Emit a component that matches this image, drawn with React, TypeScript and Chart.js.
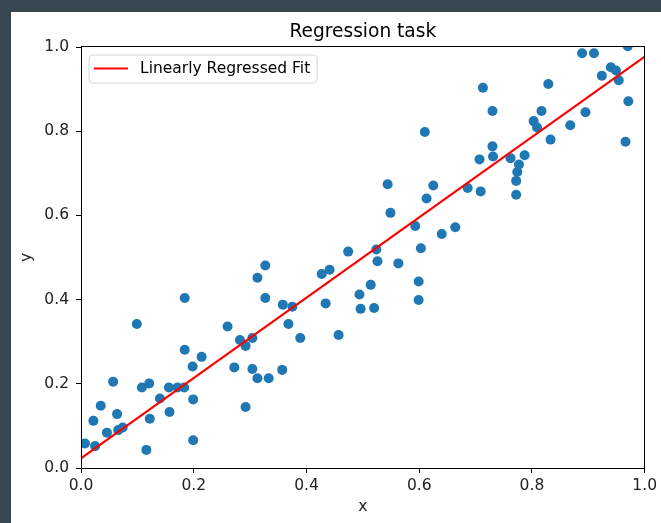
import React, { useEffect, useRef } from "react";
import { Chart, registerables } from "chart.js";

Chart.register(...registerables);

const titleText = "Regression task";
const legendLabel = "Linearly Regressed Fit";
const xAxisLabel = "x";
const yAxisLabel = "y";

const xTicks = [0, 0.2, 0.4, 0.6, 0.8, 1.0];
const yTicks = [0, 0.2, 0.4, 0.6, 0.8, 1.0];

const xValues = [
  0.007, 0.025, 0.022, 0.035, 0.046, 0.057, 0.064, 0.066, 0.074, 0.099,
  0.108, 0.121, 0.116, 0.122, 0.14, 0.156, 0.157, 0.171, 0.183, 0.184,
  0.184, 0.199, 0.199, 0.198, 0.214, 0.26, 0.272, 0.282, 0.292, 0.304,
  0.292, 0.304, 0.313, 0.333, 0.313, 0.327, 0.327, 0.358, 0.357, 0.375,
  0.368, 0.389, 0.427, 0.441, 0.434, 0.457, 0.474, 0.494, 0.496, 0.514,
  0.52, 0.524, 0.526, 0.563, 0.544, 0.549, 0.593, 0.603, 0.599, 0.599,
  0.61, 0.613, 0.625, 0.64, 0.664, 0.686, 0.709, 0.707, 0.713, 0.73,
  0.73, 0.731, 0.762, 0.777, 0.774, 0.772, 0.772, 0.787, 0.803, 0.809,
  0.817, 0.829, 0.833, 0.868, 0.889, 0.91, 0.895, 0.924, 0.94, 0.949,
  0.954, 0.971, 0.966, 0.97,
];

const yValues = [
  0.058, 0.052, 0.112, 0.148, 0.084, 0.205, 0.128, 0.09, 0.096, 0.342,
  0.191, 0.201, 0.043, 0.117, 0.165, 0.191, 0.133, 0.191, 0.191, 0.404,
  0.281, 0.163, 0.066, 0.241, 0.264, 0.336, 0.239, 0.304, 0.29, 0.309,
  0.145, 0.235, 0.213, 0.213, 0.452, 0.481, 0.404, 0.388, 0.233, 0.383,
  0.342, 0.309, 0.461, 0.471, 0.391, 0.316, 0.514, 0.412, 0.378, 0.435,
  0.38, 0.519, 0.491, 0.486, 0.674, 0.606, 0.575, 0.522, 0.443, 0.399,
  0.798, 0.64, 0.671, 0.556, 0.572, 0.665, 0.657, 0.733, 0.903, 0.848,
  0.764, 0.74, 0.736, 0.721, 0.703, 0.682, 0.649, 0.743, 0.824, 0.809,
  0.848, 0.912, 0.78, 0.814, 0.985, 0.985, 0.845, 0.932, 0.952, 0.944,
  0.921, 0.871, 0.775, 1.002,
];

const fitX = [0, 1];
const fitY = [0.023, 0.977];

const FONT = '"DejaVu Sans", sans-serif';
const TICK_SIZE = 15.5;
const TITLE_SIZE = 18.6;
const LINE_RED = "#ff0000";
const POINT_BLUE = "#1f77b4";

const decorPlugin = {
  id: "decor",
  afterDraw(chart: any) {
    const { ctx, chartArea } = chart;
    const { left, top, right, bottom } = chartArea;
    ctx.save();
    // frame (spines)
    ctx.strokeStyle = "#000";
    ctx.lineWidth = 1;
    ctx.strokeRect(
      Math.round(left) + 0.5,
      Math.round(top) - 0.5,
      Math.round(right - left) - 1,
      Math.round(bottom - top) + 1
    );
    // title
    ctx.fillStyle = "#000";
    ctx.font = `${TITLE_SIZE}px ${FONT}`;
    ctx.textAlign = "center";
    ctx.textBaseline = "alphabetic";
    ctx.fillText(titleText, (left + right) / 2, 25);

    // legend
    ctx.font = `${TICK_SIZE}px ${FONT}`;
    const textW = ctx.measureText(legendLabel).width;
    const bx = left + 8;
    const by = top + 8;
    const lineLen = 34;
    const textX = bx + 5 + lineLen + 12;
    const bw = textX + textW + 7 - bx;
    const bh = 28;
    const r = 4;
    ctx.beginPath();
    ctx.moveTo(bx + r, by);
    ctx.lineTo(bx + bw - r, by);
    ctx.quadraticCurveTo(bx + bw, by, bx + bw, by + r);
    ctx.lineTo(bx + bw, by + bh - r);
    ctx.quadraticCurveTo(bx + bw, by + bh, bx + bw - r, by + bh);
    ctx.lineTo(bx + r, by + bh);
    ctx.quadraticCurveTo(bx, by + bh, bx, by + bh - r);
    ctx.lineTo(bx, by + r);
    ctx.quadraticCurveTo(bx, by, bx + r, by);
    ctx.closePath();
    ctx.fillStyle = "rgba(255,255,255,0.8)";
    ctx.fill();
    ctx.strokeStyle = "#d6d6d6";
    ctx.lineWidth = 1;
    ctx.stroke();

    const cy = by + 13.5;
    ctx.beginPath();
    ctx.moveTo(bx + 5, cy);
    ctx.lineTo(bx + 5 + lineLen, cy);
    ctx.strokeStyle = LINE_RED;
    ctx.lineWidth = 2;
    ctx.stroke();

    ctx.fillStyle = "#000";
    ctx.textAlign = "left";
    ctx.textBaseline = "middle";
    ctx.fillText(legendLabel, textX, cy);
    ctx.restore();
  },
};

export default function App() {
  const canvasRef = useRef<HTMLCanvasElement | null>(null);

  useEffect(() => {
    const canvas = canvasRef.current;
    if (!canvas) return;
    Chart.defaults.font.family = FONT;
    const points = xValues.map((x, i) => ({ x, y: yValues[i] }));
    const fit = fitX.map((x, i) => ({ x, y: fitY[i] }));

    const chart = new Chart(canvas, {
      type: "scatter",
      data: {
        datasets: [
          {
            label: legendLabel,
            data: fit,
            showLine: true,
            borderColor: LINE_RED,
            borderWidth: 2,
            pointRadius: 0,
            pointHoverRadius: 0,
            order: 0,
            clip: 0,
          } as any,
          {
            label: "data",
            data: points,
            backgroundColor: POINT_BLUE,
            borderWidth: 0,
            pointRadius: 5,
            pointHoverRadius: 5,
            order: 1,
            clip: 0,
          } as any,
        ],
      },
      options: {
        animation: false,
        responsive: false,
        devicePixelRatio: 1,
        layout: { padding: { top: 35, right: 16, bottom: 0, left: 0 } },
        plugins: {
          legend: { display: false },
          title: { display: false },
          tooltip: { enabled: false },
        },
        scales: {
          x: {
            type: "linear",
            min: 0,
            max: 1,
            afterBuildTicks: (scale: any) => {
              scale.ticks = xTicks.map((v) => ({ value: v }));
            },
            afterFit: (scale: any) => {
              scale.height = 55;
            },
            ticks: {
              color: "#222",
              font: { size: TICK_SIZE },
              padding: 4,
              maxRotation: 0,
              autoSkip: false,
              callback: (v: any) => Number(v).toFixed(1),
            },
            grid: {
              display: true,
              drawOnChartArea: false,
              drawTicks: true,
              tickLength: 5,
              color: "#000",
              lineWidth: 1,
            },
            border: { display: true, color: "#000", width: 1 },
            title: {
              display: true,
              text: xAxisLabel,
              color: "#222",
              font: { size: TICK_SIZE },
              padding: { top: 0, bottom: 7 },
            },
          },
          y: {
            type: "linear",
            min: 0,
            max: 1,
            afterBuildTicks: (scale: any) => {
              scale.ticks = yTicks.map((v) => ({ value: v }));
            },
            afterFit: (scale: any) => {
              scale.width = 70;
            },
            ticks: {
              color: "#222",
              font: { size: TICK_SIZE },
              padding: 7,
              autoSkip: false,
              callback: (v: any) => Number(v).toFixed(1),
            },
            grid: {
              display: true,
              drawOnChartArea: false,
              drawTicks: true,
              tickLength: 5,
              color: "#000",
              lineWidth: 1,
            },
            border: { display: true, color: "#000", width: 1 },
            title: {
              display: true,
              text: yAxisLabel,
              color: "#222",
              font: { size: TICK_SIZE },
              padding: { top: 7, bottom: 0 },
            },
          },
        },
      },
      plugins: [decorPlugin],
    });
    return () => chart.destroy();
  }, []);

  return (
    <div
      style={{
        position: "fixed",
        left: 0,
        top: 0,
        width: "100vw",
        height: "100vh",
        background: "#37474f",
        overflow: "hidden",
      }}
    >
      <div
        style={{
          position: "absolute",
          left: 11,
          top: 12,
          width: 650,
          height: 511,
          background: "#ffffff",
        }}
      >
        <canvas
          ref={canvasRef}
          width={650}
          height={511}
          style={{ display: "block", width: 650, height: 511 }}
        />
      </div>
    </div>
  );
}
